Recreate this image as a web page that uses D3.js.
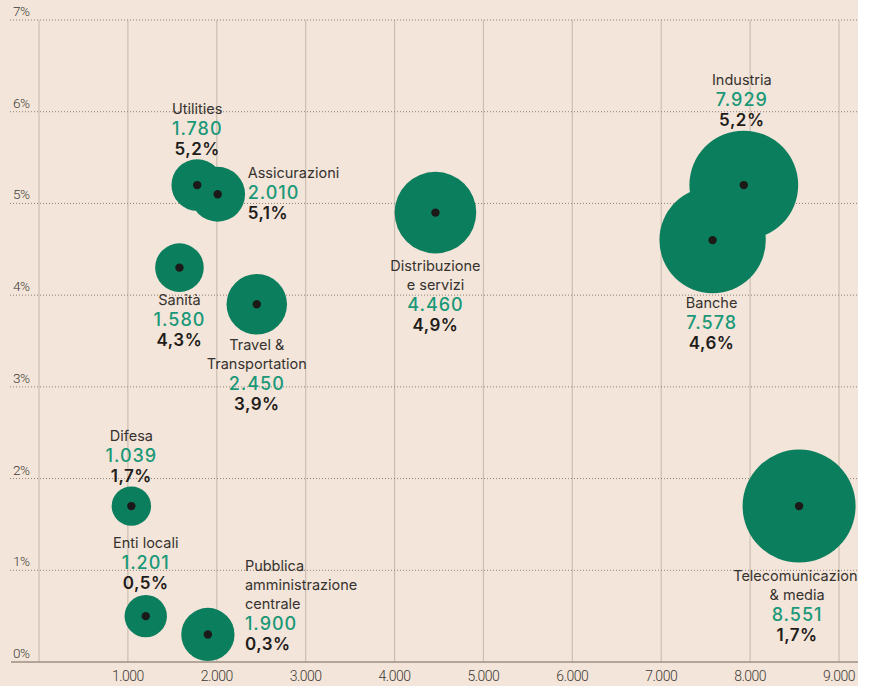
<!DOCTYPE html>
<html>
<head>
<meta charset="utf-8">
<script src="https://cdn.jsdelivr.net/npm/d3@7"></script>
<style>
  body { margin: 0; background: #ffffff; }
  svg { display: block; }
  .name { font-family: Inter, "Open Sans", sans-serif; font-size: 14.5px; fill: #36322f; }
  .val { font-family: Inter, "Open Sans", sans-serif; font-size: 18px; font-weight: 500; fill: #1a9878; letter-spacing: 1px; }
  .pct { font-family: Inter, "Open Sans", sans-serif; font-size: 17px; font-weight: 600; fill: #1f1c1a; letter-spacing: 0.5px; }
  .tick-lbl { font-family: Roboto, sans-serif; font-size: 14px; font-weight: 300; fill: #3f3a36; letter-spacing: -0.5px; }
</style>
</head>
<body>
<svg id="mainsvg" width="858" height="686"></svg>
<script>
// data
const sectors = ['Utilities', 'Assicurazioni', 'Sanità', 'Travel & Transportation',
  'Distribuzione e servizi', 'Industria', 'Banche', 'Difesa', 'Enti locali',
  'Pubblica amministrazione centrale', 'Telecomunicazioni & media'];
const nameLines = [['Utilities'], ['Assicurazioni'], ['Sanità'], ['Travel &', 'Transportation'],
  ['Distribuzione', 'e servizi'], ['Industria'], ['Banche'], ['Difesa'], ['Enti locali'],
  ['Pubblica', 'amministrazione', 'centrale'], ['Telecomunicazioni', '& media']];
const amounts = [1780, 2010, 1580, 2450, 4460, 7929, 7578, 1039, 1201, 1900, 8551];
const shares = [5.2, 5.1, 4.3, 3.9, 4.9, 5.2, 4.6, 1.7, 0.5, 0.3, 1.7];
const xTicks = [1000, 2000, 3000, 4000, 5000, 6000, 7000, 8000, 9000];
const yTicks = [0, 1, 2, 3, 4, 5, 6, 7];

// label placement (anchor, dx, dy of first line baseline from centre)
const labelPos = [
  ['middle', 0, -71], ['start', 30, -16], ['middle', 0, 37], ['middle', 0, 46],
  ['middle', 0, 58], ['middle', -2, -100], ['middle', -1, 68], ['middle', 0, -65],
  ['middle', 0, -68], ['start', 37, -63], ['middle', -2, 75]
];

const it = d3.formatLocale({ decimal: ',', thousands: '.', grouping: [3], currency: ['€', ''] });
const fmtInt = it.format(',d');
const fmtPct = d => it.format('.1f')(d) + '%';

const svg = d3.select('#mainsvg');
const width = +svg.attr('width');
const height = +svg.attr('height');

svg.append('rect').attr('width', width).attr('height', height).attr('fill', '#f3e5d9');

const xScale = d3.scaleLinear().domain([0, 9000]).range([39, 839]);
const yScale = d3.scaleLinear().domain([0, 7]).range([662, 20]);
const rScale = d3.scaleSqrt().domain([0, 8551]).range([0, 56.5]);

const data = sectors.map((s, i) => ({
  name: s, lines: nameLines[i], x: amounts[i], y: shares[i],
  anchor: labelPos[i][0], dx: labelPos[i][1], dy: labelPos[i][2]
}));

// vertical grid
svg.append('g').selectAll('line').data([0].concat(xTicks)).join('line')
  .attr('x1', d => xScale(d)).attr('x2', d => xScale(d))
  .attr('y1', yScale(7)).attr('y2', yScale(0))
  .attr('stroke', '#cbbfb2').attr('stroke-width', 1.2);

// horizontal dotted grid
svg.append('g').selectAll('line').data(yTicks.filter(d => d > 0)).join('line')
  .attr('x1', 10).attr('x2', width)
  .attr('y1', d => yScale(d)).attr('y2', d => yScale(d))
  .attr('stroke', '#8d8276').attr('stroke-width', 1).attr('stroke-dasharray', '1,2');

// baseline
svg.append('line')
  .attr('x1', 11).attr('x2', width).attr('y1', yScale(0)).attr('y2', yScale(0))
  .attr('stroke', '#9c8e80').attr('stroke-width', 1.5);

// y labels
svg.append('g').selectAll('text').data(yTicks).join('text')
  .attr('class', 'tick-lbl')
  .attr('x', 13).attr('y', d => yScale(d) - 4)
  .style('font-size', '13.5px')
  .text(d => d + '%');

// x labels
svg.append('g').selectAll('text').data(xTicks).join('text')
  .attr('class', 'tick-lbl')
  .attr('x', xScale).attr('y', yScale(0) + 19)
  .attr('text-anchor', 'middle')
  .text(d => fmtInt(d));

// bubbles
svg.append('g').selectAll('circle').data(data).join('circle')
  .attr('cx', d => xScale(d.x)).attr('cy', d => yScale(d.y))
  .attr('r', d => rScale(d.x))
  .attr('fill', '#0b7e5e');

svg.append('g').selectAll('circle').data(data).join('circle')
  .attr('cx', d => xScale(d.x)).attr('cy', d => yScale(d.y))
  .attr('r', 4.2)
  .attr('fill', '#1b1a18');

// labels
const lbl = svg.append('g').selectAll('g').data(data).join('g')
  .attr('transform', d => `translate(${xScale(d.x) + d.dx},${yScale(d.y) + d.dy})`)
  .attr('text-anchor', d => d.anchor);

lbl.each(function (d) {
  const g = d3.select(this);
  d.lines.forEach((l, i) => {
    g.append('text').attr('class', 'name').attr('y', i * 19).text(l);
  });
  const base = (d.lines.length - 1) * 19;
  g.append('text').attr('class', 'val').attr('y', base + 21).text(fmtInt(d.x));
  g.append('text').attr('class', 'pct').attr('y', base + 41).text(fmtPct(d.y));
});
</script>
</body>
</html>
